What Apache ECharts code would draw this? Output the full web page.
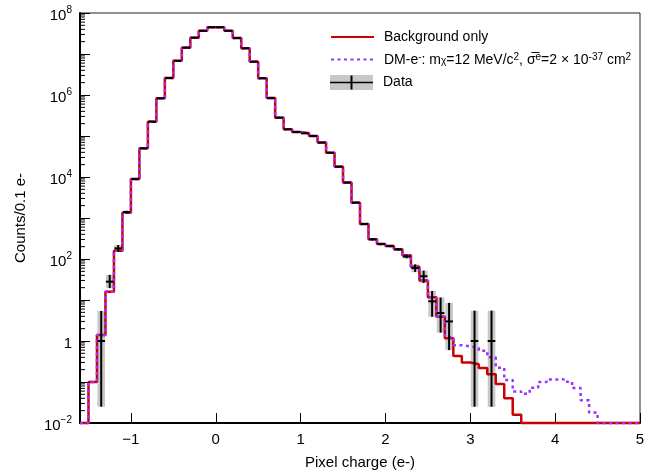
<!DOCTYPE html>
<html><head><meta charset="utf-8">
<script src="https://cdn.jsdelivr.net/npm/echarts@6/dist/echarts.min.js"></script>
<style>html,body{margin:0;padding:0;background:#fff}#c{width:658px;height:476px}</style>
</head><body><div id="c"></div>
<script>
// ---- data (bins of 0.1 e-, starting at -1.6) ----
const binStart = -1.6;
const binWidth = 0.1;
const background = [
  0, 0.1, 1.4, 16, 160, 1350, 8900, 50000, 224000, 832000,
  2.6e6, 6.8e6, 1.43e7, 2.5e7, 3.67e7, 4.5e7, 4.5e7, 3.67e7, 2.45e7, 1.38e7,
  6.5e6, 2.57e6, 8.4e5, 2.8e5, 1.46e5, 1.25e5, 1.16e5, 1.0e5, 6.9e4, 3.9e4,
  1.79e4, 7300, 2370, 715, 302, 232, 207, 172, 123, 65,
  30, 11.7, 3.9, 1.16, 0.43, 0.30, 0.27, 0.22, 0.154, 0.089,
  0.040, 0.016, 0, 0, 0, 0, 0, 0, 0, 0,
  0, 0, 0, 0, 0, 0
];
const dmSignal = [
  0, 0.1, 1.4, 16, 160, 1350, 8900, 50000, 224000, 832000,
  2.6e6, 6.8e6, 1.43e7, 2.5e7, 3.67e7, 4.5e7, 4.5e7, 3.67e7, 2.45e7, 1.38e7,
  6.5e6, 2.57e6, 8.4e5, 2.8e5, 1.46e5, 1.25e5, 1.16e5, 1.0e5, 6.9e4, 3.9e4,
  1.79e4, 7300, 2370, 715, 302, 232, 207, 172, 123, 65,
  30, 11.7, 3.9, 1.26, 0.79, 0.74, 0.68, 0.575, 0.40, 0.224,
  0.112, 0.059, 0.052, 0.072, 0.10, 0.115, 0.117, 0.102, 0.071, 0.036,
  0.018, 0, 0, 0, 0, 0
];
const dataCounts = [
  null, null, 1, 28, 182, 1400, 8900, 50000, 224000, 832000,
  2.6e6, 6.8e6, 1.43e7, 2.5e7, 3.67e7, 4.5e7, 4.5e7, 3.67e7, 2.45e7, 1.38e7,
  6.5e6, 2.57e6, 8.4e5, 2.8e5, 1.46e5, 1.25e5, 1.16e5, 1.0e5, 6.9e4, 3.9e4,
  1.79e4, 7300, 2370, 715, 302, 232, 207, 172, 115, 60,
  38, 9.3, 4.8, 3.0, null, null, 1, null, 1, null,
  null, null, null, null, null, null, null, null, null, null,
  null, null, null, null, null, null
];
const dataErrLow = [
  null, null, 0.025, 19.5, 151, 1300, 8900, 50000, 224000, 832000,
  2.6e6, 6.8e6, 1.43e7, 2.5e7, 3.67e7, 4.5e7, 4.5e7, 3.67e7, 2.45e7, 1.38e7,
  6.5e6, 2.57e6, 8.4e5, 2.8e5, 1.46e5, 1.25e5, 1.16e5, 1.0e5, 6.9e4, 3.9e4,
  1.79e4, 7300, 2370, 690, 285, 218, 195, 160, 104, 48,
  26, 3.9, 1.6, 0.6, null, null, 0.025, null, 0.025, null,
  null, null, null, null, null, null, null, null, null, null,
  null, null, null, null, null, null
];
const dataErrHigh = [
  null, null, 5.4, 41, 219, 1500, 8900, 50000, 224000, 832000,
  2.6e6, 6.8e6, 1.43e7, 2.5e7, 3.67e7, 4.5e7, 4.5e7, 3.67e7, 2.45e7, 1.38e7,
  6.5e6, 2.57e6, 8.4e5, 2.8e5, 1.46e5, 1.25e5, 1.16e5, 1.0e5, 6.9e4, 3.9e4,
  1.79e4, 7300, 2370, 740, 320, 246, 220, 185, 127, 74,
  52, 16.6, 11.5, 8.5, null, null, 5.5, null, 5.5, null,
  null, null, null, null, null, null, null, null, null, null,
  null, null, null, null, null, null
];
const xTicks = [-1, 0, 1, 2, 3, 4, 5];
const xMin = -1.6, xMax = 5;
const yMin = 1e-2, yMax = 1e8;
const minorMultipliers = [2, 3, 4, 5, 6, 7, 8, 9];

// ---- helpers ----
const FONT = 'Liberation Sans, Arial, Helvetica, sans-serif';
function edge(i) { return Math.round((binStart + i * binWidth) * 1000) / 1000; }
function stepPoints(vals) {
  const pts = [];
  for (let i = 0; i < vals.length; i++) {
    const v = vals[i] > 0 ? vals[i] : yMin;
    pts.push([edge(i), v], [edge(i + 1), v]);
  }
  return pts;
}
const dataItems = [];
dataCounts.forEach((v, i) => {
  if (v != null) dataItems.push([edge(i) + binWidth / 2, v, dataErrLow[i], dataErrHigh[i]]);
});
const minorTicks = [];
for (let e = Math.log10(yMin); e < Math.log10(yMax); e++) {
  minorMultipliers.forEach(m => minorTicks.push([xMin, m * Math.pow(10, e)]));
}

const dataIconSvg = "<svg xmlns='http://www.w3.org/2000/svg' width='43' height='15'>" +
  "<rect width='43' height='15' fill='#c8c8c8'/>" +
  "<line x1='0' y1='7.5' x2='43' y2='7.5' stroke='black' stroke-width='1.6'/>" +
  "<line x1='21.5' y1='0.5' x2='21.5' y2='14.5' stroke='black' stroke-width='2'/></svg>";
const dataIcon = 'image://data:image/svg+xml;charset=utf-8,' + encodeURIComponent(dataIconSvg);

const RED = '#cc0000', VIOLET = '#9933ff';
const HIDDEN_SYMBOL = { color: 'rgba(0,0,0,0)', borderWidth: 0, opacity: 0 };

const legendBase = {
  orient: 'vertical', left: 325, itemWidth: 43, itemHeight: 15, itemGap: 0,
  selectedMode: false,
  textStyle: { fontFamily: FONT, fontSize: 14, color: '#000', padding: [0, 0, 0, 5] }
};

const chart = echarts.init(document.getElementById('c'), null, { renderer: 'canvas' });
chart.setOption({
  animation: false,
  backgroundColor: '#fff',
  grid: { left: 80, right: 18, top: 13, bottom: 53, show: true, borderColor: '#222', borderWidth: 1 },
  legend: [
    Object.assign({}, legendBase, { top: 25, data: [{ name: 'Background only', itemStyle: HIDDEN_SYMBOL }] }),
    Object.assign({}, legendBase, {
      top: 42, data: [{ name: 'DM', itemStyle: HIDDEN_SYMBOL }],
      formatter: () => '{t|DM-e}{sup|-}{t|: m}{sub|χ}{t|=12 MeV/c}{sup|2}{t|, σ\u0305}{sube|e}{t|=2 × 10}{sup|-37}{t| cm}{sup|2}',
      textStyle: {
        fontFamily: FONT, fontSize: 14, color: '#000', padding: [0, 0, 0, 5],
        rich: {
          t: { fontFamily: FONT, fontSize: 14, lineHeight: 14, padding: [6, 0, 5, 0] },
          sup: { fontFamily: FONT, fontSize: 10, lineHeight: 10, verticalAlign: 'top' },
          sub: { fontFamily: FONT, fontSize: 10, lineHeight: 10, verticalAlign: 'bottom' },
          sube: { fontFamily: FONT, fontSize: 10, lineHeight: 10, padding: [0, 0, 4, 0], verticalAlign: 'bottom' }
        }
      }
    }),
    Object.assign({}, legendBase, { top: 70, data: [{ name: 'Data', icon: dataIcon }] })
  ],
  xAxis: {
    type: 'value', min: xMin, max: xMax,
    name: 'Pixel charge (e-)', nameLocation: 'middle', nameGap: 32,
    nameTextStyle: { fontFamily: FONT, fontSize: 15, color: '#000' },
    axisLine: { show: true, onZero: false, lineStyle: { color: '#000', width: 2 } },
    axisTick: { show: true, inside: true, length: 10, customValues: xTicks, lineStyle: { color: '#000', width: 1 } },
    axisLabel: {
      customValues: xTicks, margin: 9, fontFamily: FONT, fontSize: 15, color: '#000',
      formatter: v => (v < 0 ? '\u2212' + (-v) : String(v))
    },
    splitLine: { show: false }
  },
  yAxis: {
    type: 'log', logBase: 10, min: yMin, max: yMax, interval: 1,
    name: 'Counts/0.1 e-', nameLocation: 'middle', nameGap: 52, nameRotate: 90,
    nameTextStyle: { fontFamily: FONT, fontSize: 15, color: '#000' },
    axisLine: { show: true, onZero: false, lineStyle: { color: '#000', width: 2 } },
    axisTick: { show: true, inside: true, length: 10, lineStyle: { color: '#000', width: 1 } },
    splitLine: { show: false },
    axisLabel: {
      margin: 8, color: '#000', fontFamily: FONT,
      formatter: v => {
        const e = Math.round(Math.log10(v));
        if (e % 2 !== 0) return '';
        if (e === 0) return '{b|1}';
        return '{b|10}{s|' + (e < 0 ? '\u2212' : '') + Math.abs(e) + '}';
      },
      rich: {
        b: { fontFamily: FONT, fontSize: 15, lineHeight: 15, padding: [5, 0, 0, 0] },
        s: { fontFamily: FONT, fontSize: 10, lineHeight: 10, verticalAlign: 'top' }
      }
    }
  },
  series: [
    {
      name: 'DataBox', type: 'custom', silent: true, z: 1,
      data: dataItems,
      renderItem: (params, api) => {
        const c = api.value(0), lo = api.value(2), hi = api.value(3);
        if (!(hi > lo)) return null;
        const p1 = api.coord([c - binWidth * 0.45, hi]);
        const p2 = api.coord([c + binWidth * 0.45, lo]);
        return { type: 'rect', shape: { x: p1[0], y: p1[1], width: p2[0] - p1[0], height: p2[1] - p1[1] }, style: { fill: '#c8c8c8' } };
      }
    },
    {
      name: 'Background only', type: 'line', data: stepPoints(background),
      symbol: 'none', showSymbol: false, clip: false, z: 3,
      lineStyle: { color: RED, width: 2.5 }, itemStyle: { color: RED }
    },
    {
      name: 'DM', type: 'line', data: stepPoints(dmSignal),
      symbol: 'none', showSymbol: false, clip: false, z: 4,
      lineStyle: { color: VIOLET, width: 2.5, type: [3, 3.5] }, itemStyle: { color: VIOLET }
    },
    {
      name: 'Data', type: 'custom', silent: true, z: 5,
      itemStyle: { color: '#c8c8c8' },
      data: dataItems,
      renderItem: (params, api) => {
        const c = api.value(0), v = api.value(1), lo = api.value(2), hi = api.value(3);
        const a = api.coord([c - binWidth * 0.45, v]);
        const b = api.coord([c + binWidth * 0.45, v]);
        const children = [{ type: 'line', shape: { x1: a[0], y1: a[1], x2: b[0], y2: b[1] }, style: { stroke: '#000', lineWidth: 2 } }];
        if (hi > lo) {
          const t = api.coord([c, hi]), u = api.coord([c, lo]);
          children.push({ type: 'line', shape: { x1: t[0], y1: t[1], x2: u[0], y2: u[1] }, style: { stroke: '#000', lineWidth: 2 } });
        }
        return { type: 'group', children };
      }
    },
    {
      name: 'minorTicks', type: 'custom', silent: true, z: 6,
      data: minorTicks,
      renderItem: (params, api) => {
        const p = api.coord([api.value(0), api.value(1)]);
        return { type: 'line', shape: { x1: p[0], y1: p[1], x2: p[0] + 5, y2: p[1] }, style: { stroke: '#000', lineWidth: 1 } };
      }
    }
  ]
});
</script></body></html>
